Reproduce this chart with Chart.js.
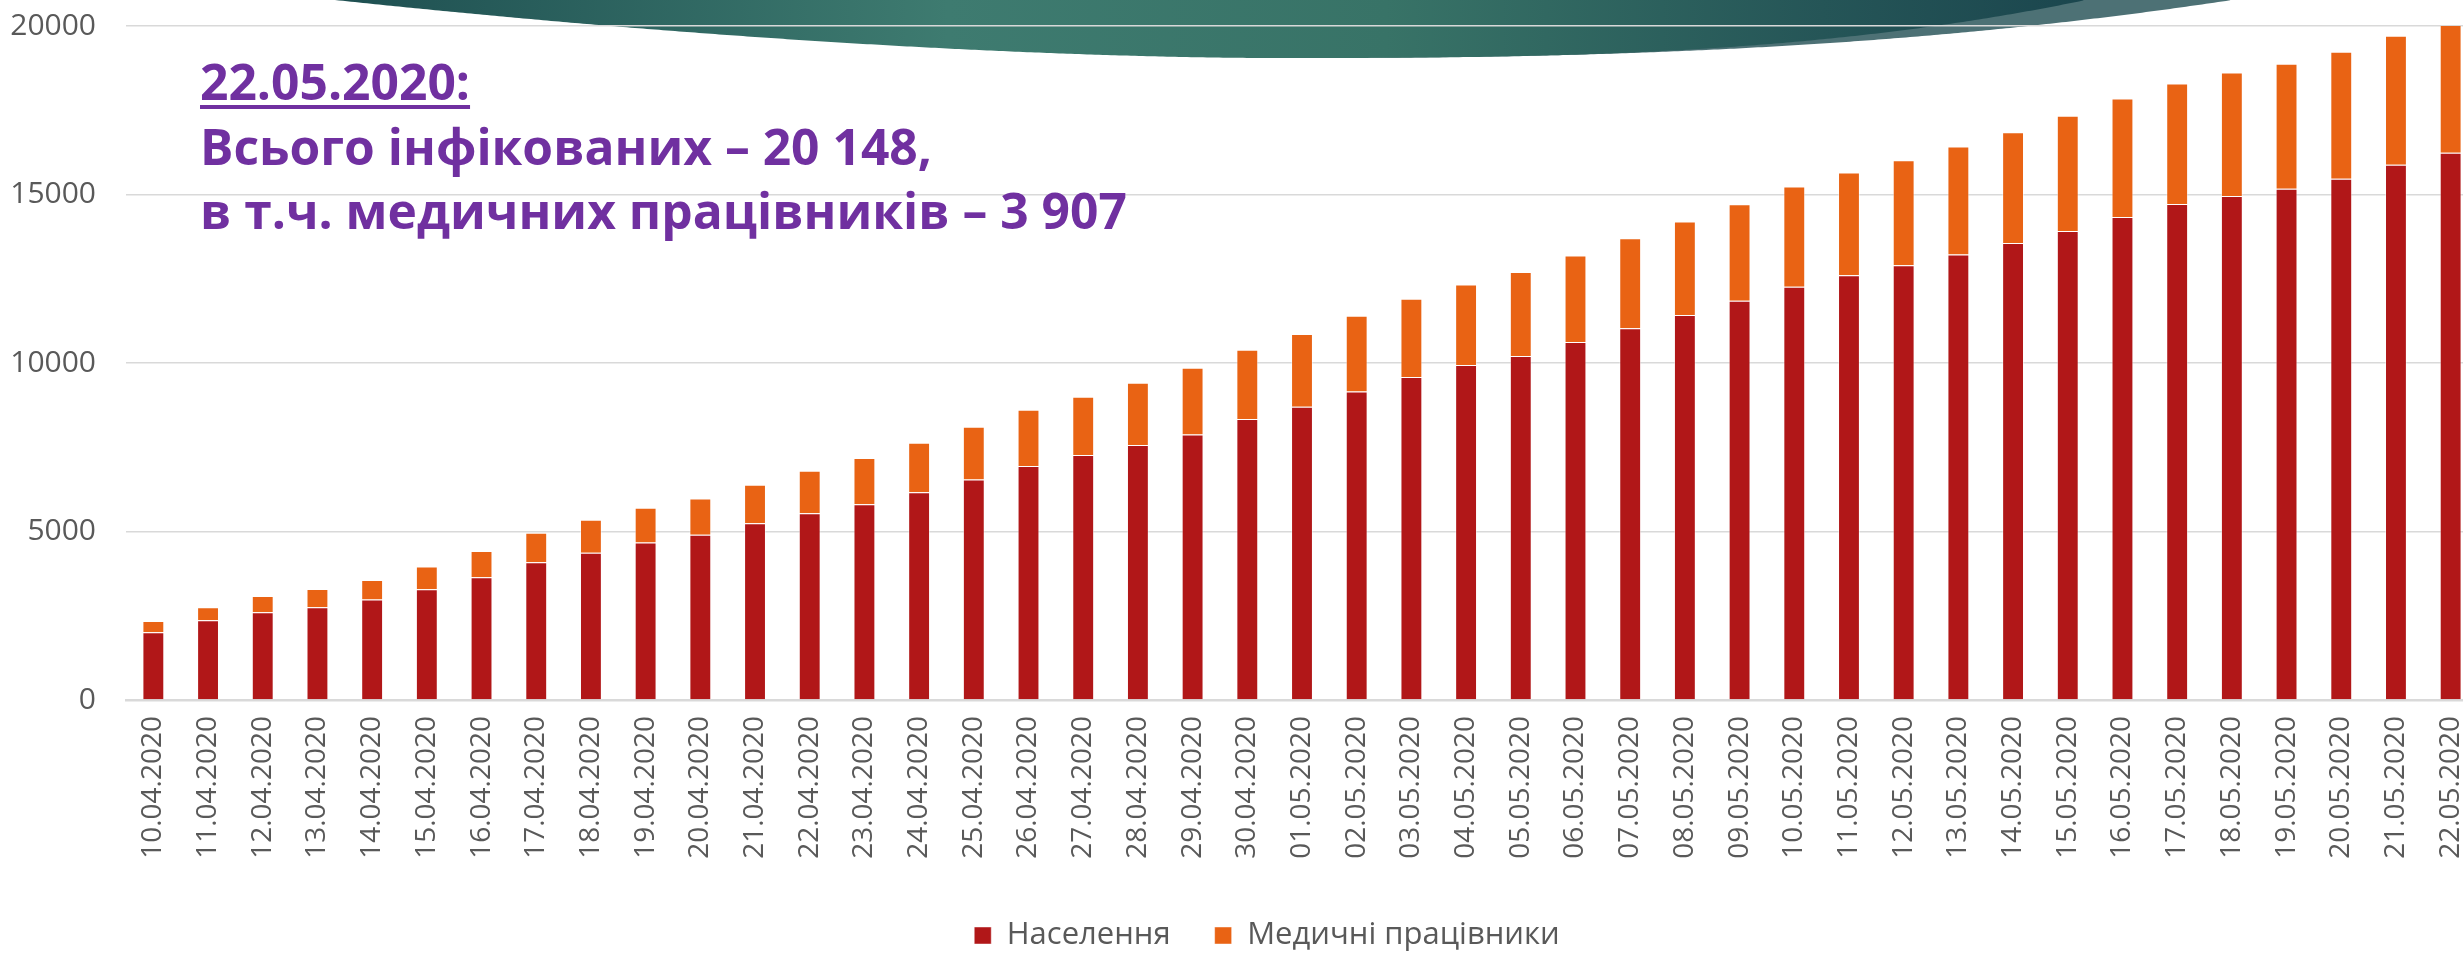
<!DOCTYPE html>
<html><head><meta charset="utf-8">
<script src="https://cdn.jsdelivr.net/npm/chart.js@4.4.1/dist/chart.umd.min.js"></script>
<style>
html,body{margin:0;padding:0;background:#fff;overflow:hidden;width:2463px;height:955px;}
#wrap{position:absolute;left:0;top:0;width:2534px;height:961px;}
canvas{display:block;}
</style></head><body>
<div id="wrap"><canvas id="c" width="2534" height="961"></canvas></div>
<script>
const categories = ['10.04.2020','11.04.2020','12.04.2020','13.04.2020','14.04.2020','15.04.2020','16.04.2020','17.04.2020','18.04.2020','19.04.2020','20.04.2020','21.04.2020','22.04.2020','23.04.2020','24.04.2020','25.04.2020','26.04.2020','27.04.2020','28.04.2020','29.04.2020','30.04.2020','01.05.2020','02.05.2020','03.05.2020','04.05.2020','05.05.2020','06.05.2020','07.05.2020','08.05.2020','09.05.2020','10.05.2020','11.05.2020','12.05.2020','13.05.2020','14.05.2020','15.05.2020','16.05.2020','17.05.2020','18.05.2020','19.05.2020','20.05.2020','21.05.2020','22.05.2020'];
const population = [2010,2366,2604,2752,2980,3287,3643,4089,4366,4673,4900,5247,5544,5811,6168,6544,6940,7267,7564,7880,8336,8702,9158,9583,9940,10207,10623,11029,11425,11850,12266,12603,12900,13217,13563,13919,14335,14721,14959,15167,15464,15880,16241];
const medical = [336,386,485,545,584,673,782,871,980,1029,1080,1139,1257,1367,1465,1564,1673,1732,1851,1980,2059,2158,2247,2327,2386,2495,2564,2673,2772,2861,2970,3049,3118,3207,3287,3416,3515,3574,3663,3712,3772,3831,3907];
const yTicks = [0,5000,10000,15000,20000];
const seriesNames = ['Населення','Медичні працівники'];
const headline = ['22.05.2020:','Всього інфікованих – 20 148,','в т.ч. медичних працівників – 3 907'];

// decorative banner edge: depth 58px, lowest at x=1270
function edge(x, wl, pl, wr, pr){
  const t = x < 1270 ? (1270 - x) / wl : (x - 1270) / wr;
  const p = x < 1270 ? pl : pr;
  return 58 * (1 - Math.pow(Math.min(t,1), p));
}
const swooshPlugin = {
  id:'swoosh',
  beforeDraw(chart){
    const ctx = chart.ctx;
    ctx.save();
    // lighter sliver on the right
    ctx.beginPath(); ctx.moveTo(1270,-2);
    for(let x=1270; x<=2232; x+=4) ctx.lineTo(x, edge(x, 935, 1.7, 962, 2.5));
    ctx.lineTo(2232,-2); ctx.closePath();
    ctx.fillStyle = '#4d7175'; ctx.fill();
    // main dark teal shape
    const g = ctx.createLinearGradient(335,0,2086,0);
    g.addColorStop(0,'#1e4f51'); g.addColorStop(0.35,'#3e7b70'); g.addColorStop(0.6,'#387367');
    g.addColorStop(0.85,'#255557'); g.addColorStop(1,'#1b464e');
    ctx.beginPath(); ctx.moveTo(335,-2);
    for(let x=335; x<=2086; x+=4) ctx.lineTo(x, edge(x, 935, 1.7, 816, 2.9));
    ctx.lineTo(2086,-2); ctx.closePath();
    ctx.fillStyle = g; ctx.fill();
    ctx.restore();
  }
};
const headlinePlugin = {
  id:'headline',
  afterDraw(chart){
    const ctx = chart.ctx;
    ctx.save();
    ctx.font = 'bold 50px "Open Sans"';
    const size = 50 * 927 / ctx.measureText(headline[2]).width;
    ctx.font = `bold ${size}px "Open Sans"`;
    ctx.fillStyle = '#7030A0';
    ctx.textBaseline = 'alphabetic';
    const x = 200, bases = [100, 164.5, 229];
    headline.forEach((t,i)=>ctx.fillText(t, x, bases[i]));
    const w1 = ctx.measureText(headline[0]).width;
    ctx.fillRect(x, 105, w1, 4);
    ctx.restore();
  }
};

new Chart(document.getElementById('c'), {
  type:'bar',
  data:{
    labels: categories,
    datasets:[
      {label: seriesNames[0], data: population, backgroundColor:'#B11718', borderColor:'rgba(255,255,255,0.45)', borderWidth:1, yAxisID:'y', barPercentage:0.4, categoryPercentage:1},
      {label: seriesNames[1], data: medical, backgroundColor:'#E96314', borderColor:'rgba(255,255,255,0.45)', borderWidth:1, yAxisID:'y', barPercentage:0.4, categoryPercentage:1}
    ]
  },
  options:{
    responsive:false, animation:false, devicePixelRatio:1,
    layout:{padding:{top:26,left:0,right:0,bottom:0}},
    plugins:{
      legend:{position:'bottom', labels:{boxWidth:17, boxHeight:17, padding:44, color:'#595959', font:{family:'Open Sans', size:31}}},
      tooltip:{enabled:false}
    },
    scales:{
      x:{stacked:true, offset:true,
        grid:{display:false, drawTicks:false},
        border:{display:true, color:'#d9d9d9', width:2.5},
        ticks:{autoSkip:false, minRotation:90, maxRotation:90, padding:16, color:'#595959', font:{family:'Open Sans', size:28}},
        afterFit:s=>{s.height=176;}
      },
      y:{stacked:true, min:0, max:20000,
        grid:{color:'#d9d9d9', lineWidth:1.5, drawTicks:true, tickLength:30, tickColor:'rgba(0,0,0,0)'},
        border:{display:false},
        ticks:{padding:0, color:'#595959', font:{family:'Open Sans', size:30}, callback:v=>String(v)},
        afterBuildTicks:s=>{s.ticks = yTicks.map(v=>({value:v}));},
        afterFit:s=>{s.width=126;}
      },
      yR:{position:'right', display:true,
        grid:{display:false, drawTicks:false}, border:{display:false}, ticks:{display:false},
        afterFit:s=>{s.width=56;}
      }
    }
  },
  plugins:[swooshPlugin, headlinePlugin]
});
</script>
</body></html>
